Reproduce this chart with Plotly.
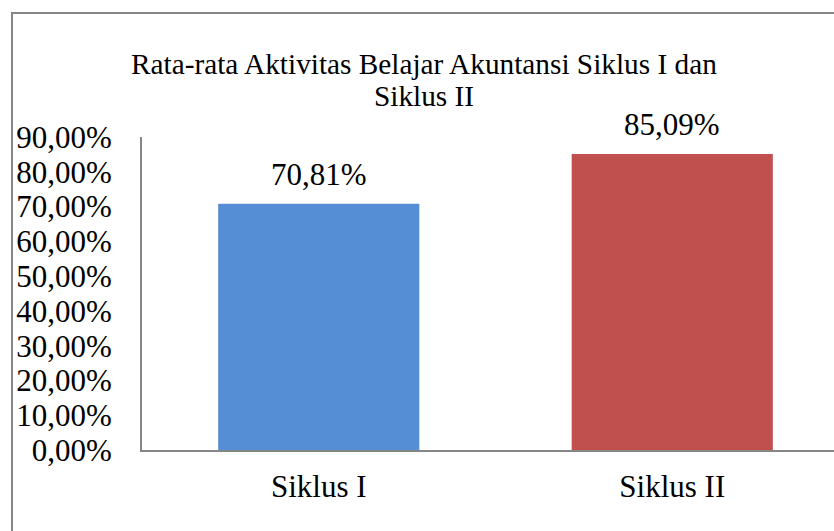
import plotly.graph_objects as go

categories = ["Siklus I", "Siklus II"]
values = [70.81, 85.09]
colors = ["#558ED5", "#C0504D"]
tick_vals = [0, 10, 20, 30, 40, 50, 60, 70, 80, 90]
tick_text = [f"{v:.2f}%".replace(".", ",") for v in tick_vals]
title_lines = ["Rata-rata Aktivitas Belajar Akuntansi Siklus I dan", "Siklus II"]

FONT = "Liberation Serif"

W, H = 834, 531
L, R, T, B = 142, 0, 137, 81
pw = W - L - R
ph = H - T - B

fig = go.Figure(
    go.Bar(
        x=categories,
        y=values,
        marker=dict(color=colors, line=dict(width=0)),
        width=0.569,
        hoverinfo="x+y",
    )
)

# data labels
for c, v in zip(categories, values):
    fig.add_annotation(
        x=c, y=v, xref="x", yref="y",
        text=f"{v:.2f}%".replace(".", ","),
        showarrow=False,
        yanchor="bottom",
        yshift=10,
        font=dict(family=FONT, size=31, color="#000000"),
    )

# title (two lines, Excel-like spacing)
title_centers = [63.5, 95.5]
for line, cy in zip(title_lines, title_centers):
    fig.add_annotation(
        x=(424 - L) / pw, y=(H - B - cy) / ph, xref="paper", yref="paper",
        text=line, showarrow=False, xanchor="center", yanchor="middle",
        font=dict(family=FONT, size=29.3, color="#000000"),
    )

fig.update_layout(
    width=W,
    height=H,
    paper_bgcolor="white",
    plot_bgcolor="white",
    margin=dict(l=L, r=R, t=T, b=B, autoexpand=False),
    showlegend=False,
    xaxis=dict(
        range=[-0.5, -0.5 + pw / 353.5],
        showline=True,
        linecolor="#868686",
        linewidth=2,
        showgrid=False,
        zeroline=False,
        ticks="",
        tickfont=dict(family=FONT, size=31, color="#000000"),
        ticklabelstandoff=8,
    ),
    yaxis=dict(
        range=[0, 90],
        tickvals=tick_vals,
        ticktext=tick_text,
        showline=True,
        linecolor="#868686",
        linewidth=2,
        showgrid=False,
        zeroline=False,
        ticks="",
        tickfont=dict(family=FONT, size=31, color="#000000"),
        ticklabelstandoff=22,
    ),
)

fig.add_shape(
    type="rect",
    xref="paper",
    yref="paper",
    x0=(12 - L) / pw,
    x1=1.2,
    y0=-0.6,
    y1=(H - B - 13) / ph,
    line=dict(color="#868686", width=2),
    fillcolor="rgba(0,0,0,0)",
    layer="below",
)

fig.write_html(
    "out.html",
    config={"displayModeBar": False},
    post_script="document.body.style.margin='0';document.body.style.overflow='hidden';",
)
